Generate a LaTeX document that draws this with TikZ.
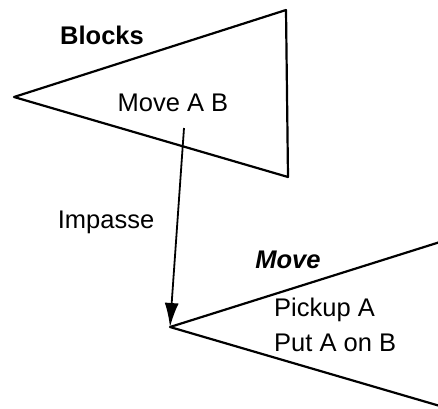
\documentclass[tikz,border=0pt]{standalone}
\usepackage{fontspec}
\setmainfont{Liberation Sans}
\usetikzlibrary{arrows.meta}
\begin{document}
\begin{tikzpicture}[x=1pt,y=-1pt,
  edge/.style={line width=2.2pt, line join=round},
  lbl/.style={font=\fontsize{25.5}{30}\selectfont, inner sep=0pt},
  blbl/.style={font=\fontsize{25.5}{30}\selectfont\bfseries, inner sep=0pt}]
\useasboundingbox (0,0) rectangle (438,408);
% top triangle
\coordinate (t1) at (14,97);
\coordinate (t2) at (286,10);
\coordinate (t3) at (288,177);
\draw[edge] (t1) -- (t2) -- (t3) -- cycle;
% bottom triangle
\coordinate (b1) at (170,327);
\coordinate (b2) at (440,242);
\coordinate (b3) at (440,406);
\draw[edge] (b2) -- (b1) -- (b3);
% labels
\node[blbl] (blocks) at (102,35) {Blocks};
\node[lbl] (moveab) at (173,103) {Move A B};
\node[lbl] (impasse) at (106,222) {Impasse};
\node[blbl, font=\fontsize{25.5}{30}\selectfont\bfseries\itshape] (move) at (288,260) {Move};
\node[lbl, anchor=west] (pickup) at (274,310) {Pickup A};
\node[lbl, anchor=west] (put) at (274,343) {Put A on B};
% arrow
\coordinate (as) at (184,128);
\draw[line width=1.8pt, -{Latex[length=24pt,width=14pt]}] (as) -- (b1);
\end{tikzpicture}
\end{document}
